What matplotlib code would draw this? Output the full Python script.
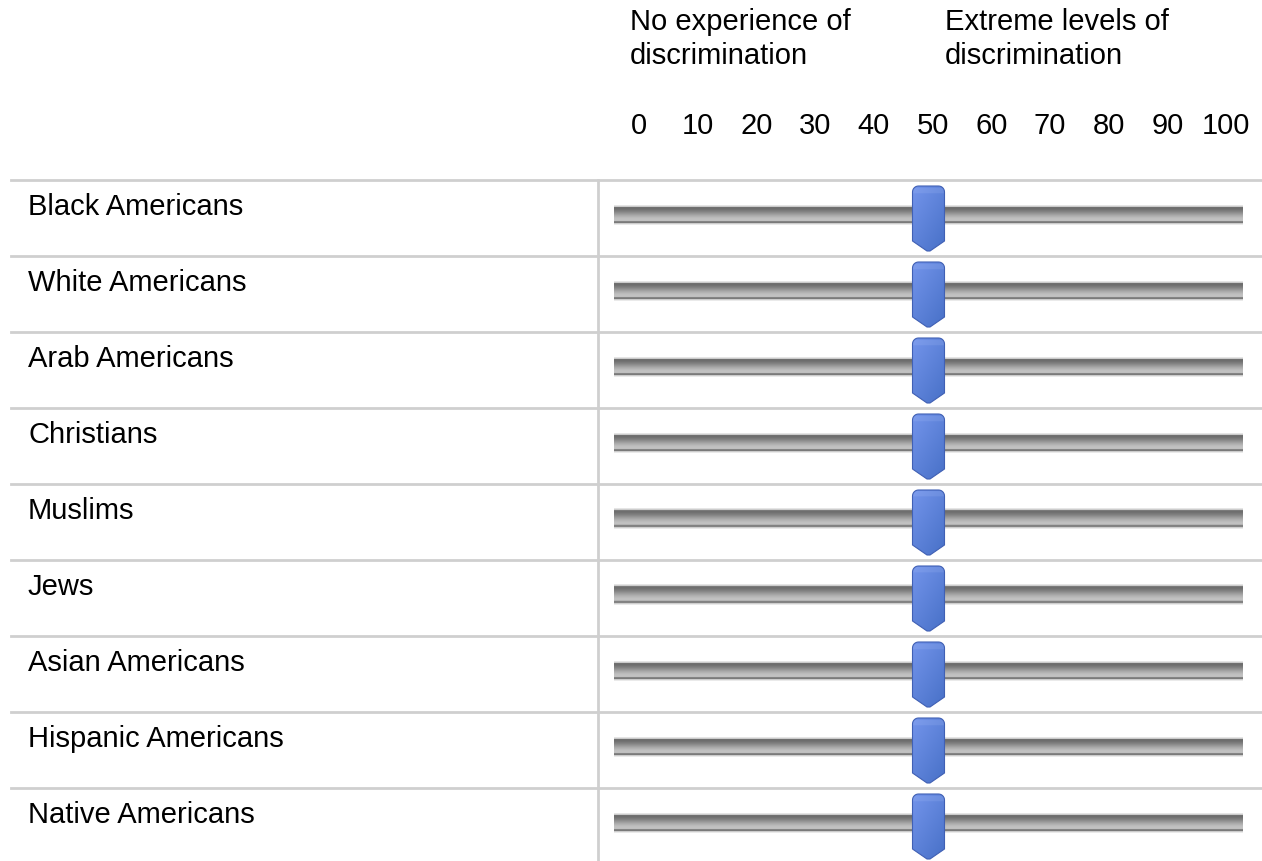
import numpy as np
import matplotlib
matplotlib.use("Agg")
import matplotlib.pyplot as plt
from matplotlib.patches import Polygon
from matplotlib.lines import Line2D
from matplotlib.transforms import blended_transform_factory

plt.rcParams['font.family'] = ['Liberation Sans', 'DejaVu Sans']

# === 数据 ===
groups = ["Black Americans", "White Americans", "Arab Americans", "Christians",
          "Muslims", "Jews", "Asian Americans", "Hispanic Americans", "Native Americans"]
slider_values = [50, 50, 50, 50, 50, 50, 50, 50, 50]
scale_ticks = [0, 10, 20, 30, 40, 50, 60, 70, 80, 90, 100]
left_anchor = "No experience of\ndiscrimination"
right_anchor = "Extreme levels of\ndiscrimination"

# === 版面（像素） ===
W, H = 1262, 862
ROW_TOP = 181
ROW_H = 76
TRACK_X0, TRACK_X1 = 614, 1243
FS = 21

fig = plt.figure(figsize=(W / 100, H / 100), dpi=100)
fig.patch.set_facecolor('white')

# 滑块区域
ax = fig.add_axes([TRACK_X0 / W, 0, (TRACK_X1 - TRACK_X0) / W, (H - ROW_TOP) / H])
ax.set_xlim(0, 100)
ax.set_ylim((H - ROW_TOP) / ROW_H, 0)
ax.axis('off')

px_x = 100 / (TRACK_X1 - TRACK_X0)   # 1 px in x data units
px_y = 1 / ROW_H                      # 1 px in y data units

# track gradient (top -> bottom, 20 px)
track_levels = np.array([0.90, 0.80, 0.44, 0.43, 0.45, 0.48, 0.51, 0.55, 0.59, 0.63,
                         0.67, 0.70, 0.73, 0.75, 0.76, 0.75, 0.52, 0.48, 0.80, 0.92])
track_img = np.repeat(track_levels[:, None, None], 3, axis=2) * np.ones((1, 4, 3))


def handle_shape(value, row):
    # outline of the blue thumb, built in pixel offsets around the value
    pts = []
    r = 6
    top, side_end, tip = 6, 61, 71
    half = 16
    for a in np.linspace(np.pi, np.pi / 2, 8):          # top-left corner
        pts.append((-half + r + r * np.cos(a), top + r - r * np.sin(a)))
    for a in np.linspace(np.pi / 2, 0, 8):              # top-right corner
        pts.append((half - r + r * np.cos(a), top + r - r * np.sin(a)))
    pts += [(half, side_end), (1.5, tip), (-1.5, tip), (-half, side_end)]
    return [(value + dx * px_x, row + dy * px_y) for dx, dy in pts]


# handle gradient
gy, gx = np.mgrid[0:1:64j, 0:1:32j]
light = np.array([0.45, 0.58, 0.92])
dark = np.array([0.28, 0.44, 0.78])
t = np.clip(0.55 * gy + 0.45 * gx, 0, 1)[..., None]
handle_img = light * (1 - t) + dark * t
handle_img[2:7] = handle_img[2:7] * 0.88 + 0.12 * np.array([0.8, 0.86, 1.0])

for i, (g, v) in enumerate(zip(groups, slider_values)):
    # track
    ax.imshow(track_img, extent=(0, 100, i + 45 * px_y, i + 25 * px_y),
              origin='upper', aspect='auto', interpolation='bilinear', zorder=2)
    # thumb
    poly = Polygon(handle_shape(v, i), closed=True, facecolor='none',
                   edgecolor='#4060b4', linewidth=0.8, zorder=4)
    ax.add_patch(poly)
    im = ax.imshow(handle_img, extent=(v - 16 * px_x, v + 16 * px_x, i + 72 * px_y, i + 6 * px_y),
                   origin='upper', aspect='auto', interpolation='bilinear', zorder=3)
    im.set_clip_path(poly)

# 表格线 和 行标签
trans = blended_transform_factory(fig.transFigure, ax.transData)
for i, g in enumerate(groups):
    fig.add_artist(Line2D([11 / W, 1], [i, i], transform=trans, color='#cfcfcf', linewidth=2))
    fig.text(28 / W, i + 34 * px_y, g, transform=trans, fontsize=FS, va='baseline', ha='left')

fig.add_artist(Line2D([598 / W, 598 / W], [1 - ROW_TOP / H, 0], color='#cfcfcf', linewidth=2))

# 刻度标签
ax_h = fig.add_axes([639 / W, 1 - 148 / H, (1226 - 639) / W, 44 / H])
ax_h.set_xlim(0, 100)
ax_h.set_ylim(0, 1)
ax_h.axis('off')
for tk in scale_ticks:
    ax_h.text(tk, 0.5, str(tk), fontsize=FS, ha='center', va='center')

# 两端说明
fig.text(630 / W, 1 - 8 / H, left_anchor, fontsize=FS, va='top', ha='left', linespacing=1.28)
fig.text(945 / W, 1 - 8 / H, right_anchor, fontsize=FS, va='top', ha='left', linespacing=1.28)

plt.savefig('out.png', dpi=100, facecolor='white')
plt.close()
